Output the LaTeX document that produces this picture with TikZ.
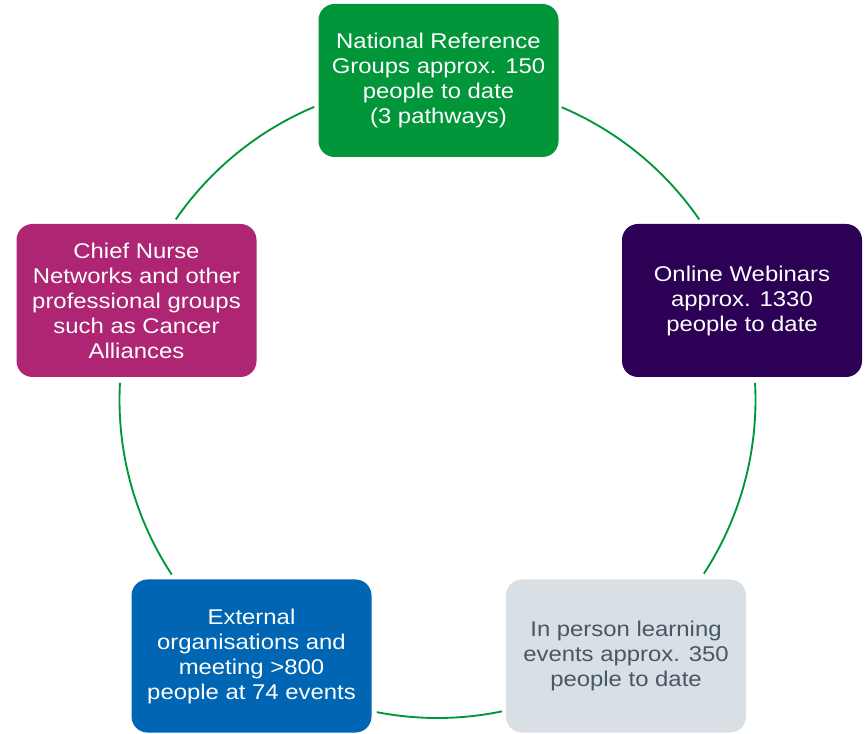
\documentclass[tikz,border=0pt]{standalone}
\usepackage{fontspec}
\setmainfont[FakeStretch=1.12]{Liberation Sans}

\definecolor{nhsgreen}{HTML}{009639}
\definecolor{nhspurple}{HTML}{2C0054}
\definecolor{nhspink}{HTML}{AE2573}
\definecolor{nhsblue}{HTML}{0065B3}
\definecolor{palegrey}{HTML}{D8DFE5}
\definecolor{slategrey}{HTML}{485764}

\tikzset{
  box/.style={rectangle, rounded corners=12pt, minimum width=180pt,
    minimum height=114.75pt, inner sep=0pt, align=center, text=white,
    font=\fontsize{16pt}{18.75pt}\selectfont},
  ring/.style={nhsgreen, line width=1.4pt},
}

\begin{document}
\begin{tikzpicture}[x=0.75pt,y=0.75pt]
\useasboundingbox (0,0) rectangle (865,733);
\coordinate (ctr) at (437.5,333);

\node[box,fill=nhsgreen] (nrg) at (438.5,652.5) {National Reference\\Groups approx. 150\\people to date\\(3 pathways)};
\node[box,fill=nhspurple] (web) at (742,432.5) {Online Webinars\\approx. 1330\\people to date};
\node[box,fill=palegrey,text=slategrey] (inp) at (626,77) {In person learning\\events approx. 350\\people to date};
\node[box,fill=nhsblue] (ext) at (251.5,77) {External\\organisations and\\meeting >800\\people at 74 events};
\node[box,fill=nhspink] (cnn) at (136.5,432.5) {Chief Nurse\\Networks and other\\professional groups\\such as Cancer\\Alliances};

% ring between the boxes
\draw[ring] (ctr) ++(145.4:318) arc[start angle=145.4,end angle=112.8,radius=318]; % cnn - nrg
\draw[ring] (ctr) ++(67:318) arc[start angle=67,end angle=34.6,radius=318]; % nrg - web
\draw[ring] (ctr) ++(3.1:318) arc[start angle=3.1,end angle=-33.1,radius=318]; % web - inp
\draw[ring] (ctr) ++(-78.3:318) arc[start angle=-78.3,end angle=-101,radius=318]; % inp - ext
\draw[ring] (ctr) ++(213.3:318) arc[start angle=213.3,end angle=176.9,radius=318]; % ext - cnn

\end{tikzpicture}
\end{document}
